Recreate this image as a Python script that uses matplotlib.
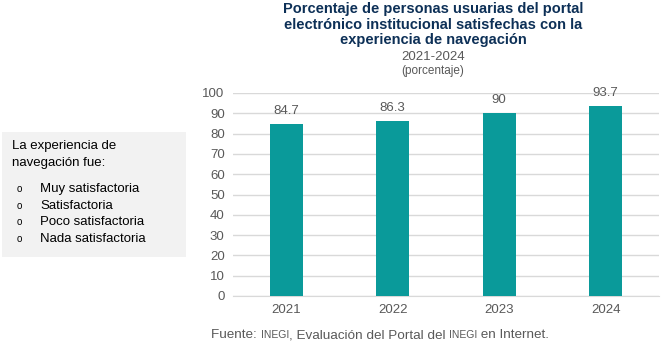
import matplotlib
matplotlib.use("Agg")
import matplotlib.pyplot as plt
from matplotlib.patches import Rectangle

plt.rcParams["font.family"] = ["Liberation Sans", "DejaVu Sans"]

# data
YEARS = ["2021", "2022", "2023", "2024"]
VALUES = [84.7, 86.3, 90, 93.7]
LABELS = ["84.7", "86.3", "90", "93.7"]
Y_TICKS = list(range(0, 101, 10))

TITLE = ("Porcentaje de personas usuarias del portal\n"
         "electrónico institucional satisfechas con la\n"
         "experiencia de navegación")
SUBTITLE = "2021-2024"
UNITS = "(porcentaje)"
BOX_HEAD = ["La experiencia de", "navegación fue:"]
BOX_ITEMS = ["Muy satisfactoria", "Satisfactoria", "Poco satisfactoria", "Nada satisfactoria"]

BAR_COLOR = "#0a9a9a"
TITLE_COLOR = "#0d3057"
TEXT_GRAY = "#595959"

W, H = 664, 346
fig = plt.figure(figsize=(W / 100, H / 100), dpi=100)

ax = fig.add_axes([233 / W, 1 - 296 / H, (659 - 233) / W, (296 - 93) / H])
x = range(len(YEARS))
ax.bar(x, VALUES, width=0.31, color=BAR_COLOR, zorder=3)
ax.set_xlim(-0.5, 3.5)
ax.set_ylim(0, 100)
ax.set_yticks(Y_TICKS)
ax.set_xticks(list(x))
ax.set_xticklabels(YEARS)
ax.grid(axis="y", color="#d9d9d9", linewidth=1, zorder=0)
for s in ["top", "right", "left"]:
    ax.spines[s].set_visible(False)
ax.spines["bottom"].set_color("#d9d9d9")
ax.tick_params(axis="both", length=0, labelsize=9.5, colors=TEXT_GRAY, pad=6)
for i, (v, lab) in enumerate(zip(VALUES, LABELS)):
    ax.annotate(lab, (i, v), xytext=(0, 5), textcoords="offset points",
                ha="center", va="bottom", fontsize=9.5, color=TEXT_GRAY)

# title block
CX = 433 / W
fig.text(CX, 1 - 2 / H, TITLE, ha="center", va="top", fontsize=10.5,
         fontweight="bold", color=TITLE_COLOR, linespacing=1.15)
fig.text(CX, 1 - 57 / H, SUBTITLE, ha="center", va="center",
         fontsize=9.5, color=TEXT_GRAY)
fig.text(CX, 1 - 71 / H, UNITS, ha="center", va="center",
         fontsize=8.5, color=TEXT_GRAY)

# side box
fig.patches.append(Rectangle((2 / W, 1 - 257 / H), 184 / W, 125 / H,
                             transform=fig.transFigure, facecolor="#f2f2f2",
                             edgecolor="none", zorder=0))
for k, line in enumerate(BOX_HEAD):
    fig.text(12 / W, 1 - (146 + 17 * k) / H, line, ha="left", va="center",
             fontsize=9.5, color="black")
for k, item in enumerate(BOX_ITEMS):
    yy = 1 - (189 + 16.7 * k) / H
    fig.text(19 / W, yy, "o", ha="center", va="center", fontsize=7, color="black")
    fig.text(40 / W, yy, item, ha="left", va="center", fontsize=9.5, color="black")

# source line with small-caps INEGI
parts = [("Fuente: ", 9.7), ("INEGI", 7.5), (", Evaluación del Portal del ", 9.7),
         ("INEGI", 7.5), (" en Internet.", 9.7)]
renderer = fig.canvas.get_renderer()
xpos = 211
for txt, fs in parts:
    t = fig.text(xpos / W, 1 - 338 / H, txt, ha="left", va="baseline",
                 fontsize=fs, color=TEXT_GRAY)
    xpos += t.get_window_extent(renderer).width

fig.savefig("out.png", dpi=100)
